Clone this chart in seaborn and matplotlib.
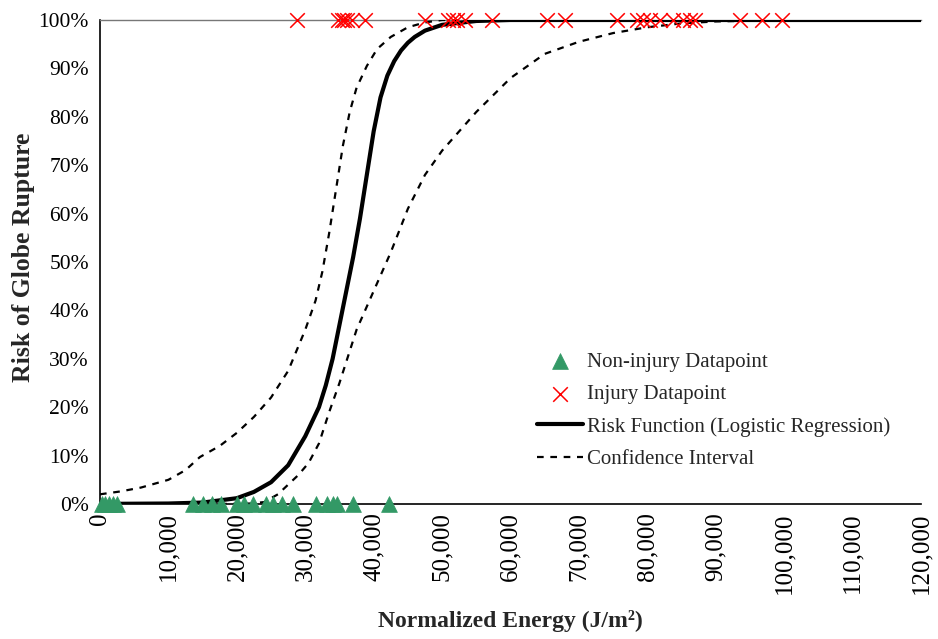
import numpy as np
import pandas as pd
import matplotlib
matplotlib.use("Agg")
import matplotlib.pyplot as plt
from matplotlib.ticker import MultipleLocator, FuncFormatter
import seaborn as sns

# ---------------- data ----------------
noninjury_energy = [300, 800, 1300, 1900, 2500,
                    13600, 15050, 16400, 17700, 20000, 21050, 22350, 24250,
                    25300, 26600, 28200, 31550, 33200, 34050, 34650, 37000, 42250]
injury_energy = [28800, 34800, 35350, 35650, 36100, 36850, 38750, 47500, 50850,
                 51600, 52200, 53350, 57300, 65350, 67950, 75550, 78500, 79350,
                 80400, 81850, 83750, 85200, 86250, 86950, 93550, 96750, 99700]

risk_energy = [0, 10000, 15000, 20000, 22500, 25000, 27500, 30000, 32000, 33000,
               34000, 35000, 36000, 37000, 38000, 39000, 40000, 41000, 42000,
               43000, 44000, 45000, 46000, 47500, 50000, 55000, 60000, 120000]
risk_value = [0.0002, 0.001, 0.003, 0.012, 0.025, 0.045, 0.08, 0.14, 0.20, 0.245,
              0.30, 0.37, 0.44, 0.51, 0.59, 0.68, 0.77, 0.84, 0.885,
              0.915, 0.937, 0.953, 0.965, 0.978, 0.99, 0.998, 1.0, 1.0]

ci_upper_energy = [0, 3000, 6000, 10000, 12500, 14600, 17500, 20000, 22500, 25000,
                   27500, 30000, 31500, 32500, 33500, 34500, 35500, 36500, 37500,
                   39000, 40500, 42500, 45000, 47500, 50000, 120000]
ci_upper_value = [0.02, 0.026, 0.034, 0.05, 0.07, 0.097, 0.12, 0.147, 0.18, 0.22,
                  0.275, 0.36, 0.42, 0.48, 0.56, 0.65, 0.74, 0.81, 0.86,
                  0.905, 0.94, 0.965, 0.985, 0.995, 1.0, 1.0]

ci_lower_energy = [0, 15000, 20000, 22000, 24000, 26000, 27500, 29000, 30500, 32000,
                   33500, 35000, 37500, 40000, 42500, 45000, 47500, 50000, 55000,
                   60000, 65000, 70000, 75000, 80000, 85000, 90000, 100000, 120000]
ci_lower_value = [0.0, 0.0, 0.0005, 0.001, 0.004, 0.02, 0.04, 0.06, 0.085, 0.125,
                  0.19, 0.25, 0.36, 0.44, 0.52, 0.61, 0.68, 0.73, 0.81,
                  0.88, 0.93, 0.955, 0.973, 0.985, 0.993, 0.997, 1.0, 1.0]

x_ticks = [0, 10000, 20000, 30000, 40000, 50000, 60000, 70000, 80000, 90000,
           100000, 110000, 120000]
y_ticks = [0, 0.1, 0.2, 0.3, 0.4, 0.5, 0.6, 0.7, 0.8, 0.9, 1.0]

# ---------------- figure ----------------
sns.set_style("white")
plt.rcParams['font.family'] = ['Liberation Serif', 'DejaVu Serif']

fig = plt.figure(figsize=(9.38, 6.39), dpi=100)
W, H = 938, 639
ax = fig.add_axes([100 / W, 1 - 504 / H, (921 - 100) / W, (504 - 20) / H])

df_non = pd.DataFrame({"E": noninjury_energy, "R": [0.0] * len(noninjury_energy)})
df_inj = pd.DataFrame({"E": injury_energy, "R": [1.0] * len(injury_energy)})
df_risk = pd.DataFrame({"E": risk_energy, "R": risk_value})
df_up = pd.DataFrame({"E": ci_upper_energy, "R": ci_upper_value})
df_lo = pd.DataFrame({"E": ci_lower_energy, "R": ci_lower_value})

green = "#339966"

sns.lineplot(data=df_risk, x="E", y="R", ax=ax, color="black", lw=3.0,
             label="Risk Function (Logistic Regression)", zorder=3)
sns.lineplot(data=df_up, x="E", y="R", ax=ax, color="black", lw=1.6,
             dashes=False, linestyle=(0, (3, 3)), zorder=3,
             label="Confidence Interval")
sns.lineplot(data=df_lo, x="E", y="R", ax=ax, color="black", lw=1.6,
             dashes=False, linestyle=(0, (3, 3)), zorder=3)

sns.scatterplot(data=df_non, x="E", y="R", ax=ax, marker="^", s=130,
                color=green, edgecolor=green, linewidth=0.5,
                label="Non-injury Datapoint", zorder=5, clip_on=False)
sns.scatterplot(data=df_inj, x="E", y="R", ax=ax, marker="x", s=110,
                color="red", linewidth=1.1,
                label="Injury Datapoint", zorder=5, clip_on=False)
for coll in ax.collections:
    coll.set_clip_on(False)

ax.set_xlim(0, 120000)
ax.set_ylim(0, 1.0)
ax.set_xticks(x_ticks)
ax.set_yticks(y_ticks)
ax.xaxis.set_minor_locator(MultipleLocator(2000))
ax.yaxis.set_minor_locator(MultipleLocator(0.02))
ax.xaxis.set_major_formatter(FuncFormatter(lambda v, p: f"{int(v):,}"))
ax.yaxis.set_major_formatter(FuncFormatter(lambda v, p: f"{int(round(v * 100))}%"))

ax.tick_params(axis="both", which="major", direction="inout", length=10, width=1,
               color="black", labelcolor="black")
ax.tick_params(axis="both", which="minor", direction="in", length=5, width=1,
               color="black")
ax.tick_params(axis="x", which="major", labelrotation=90, pad=1, labelsize=18)
ax.tick_params(axis="y", which="major", pad=3, labelsize=15.5)

for side in ["left", "bottom"]:
    ax.spines[side].set_color("black")
    ax.spines[side].set_linewidth(1.2)
ax.spines["right"].set_visible(False)
ax.spines["top"].set_visible(True)
ax.spines["top"].set_color("#777777")
ax.spines["top"].set_linewidth(1.0)
ax.grid(False)

ax.set_xlabel("Normalized Energy (J/m²)", fontsize=17, fontweight="bold")
ax.set_ylabel("Risk of Globe Rupture", fontsize=18.5, fontweight="bold")
ax.xaxis.set_label_coords(0.5, (504 - 610) / 484)
ax.yaxis.set_label_coords((35 - 100) / 821, 0.509)

# legend ordering
handles, labels = ax.get_legend_handles_labels()
order = ["Non-injury Datapoint", "Injury Datapoint",
         "Risk Function (Logistic Regression)", "Confidence Interval"]
hmap = dict(zip(labels, handles))
ax.legend([hmap[k] for k in order], order, loc="upper left",
          bbox_to_anchor=(537 / W, 1 - 352 / H), bbox_transform=fig.transFigure,
          frameon=False, fontsize=15, handlelength=2.2, handletextpad=0.2,
          labelspacing=0.62, borderpad=0, borderaxespad=0)

fig.savefig("out.png", dpi=100)
